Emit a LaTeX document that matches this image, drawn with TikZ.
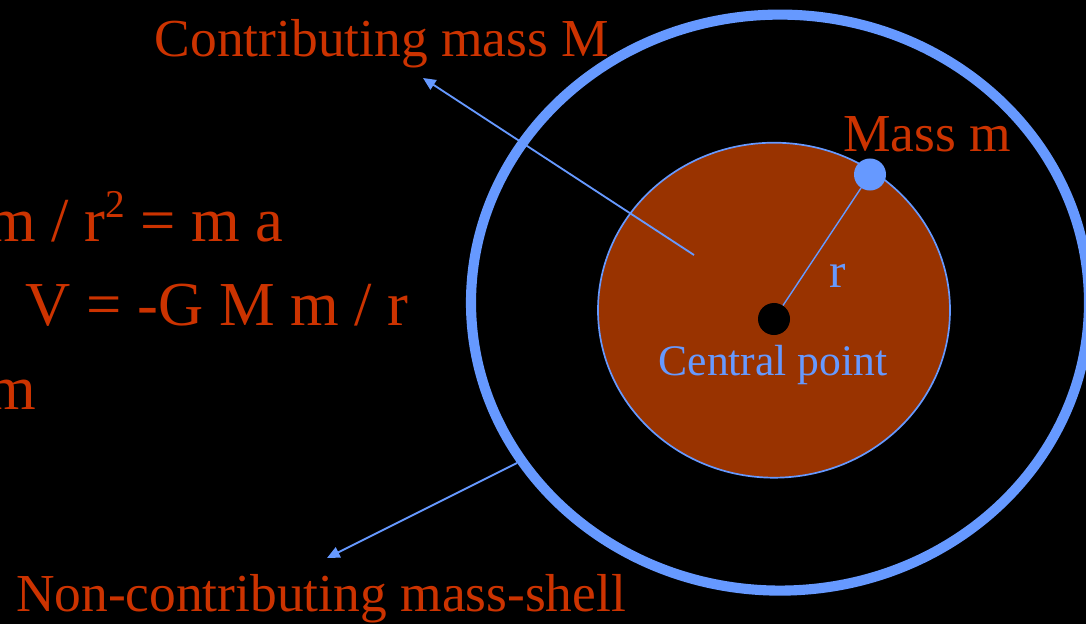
\documentclass[tikz,border=0pt]{standalone}
\usepackage{fontspec}
\setmainfont{Liberation Serif}
\usetikzlibrary{arrows.meta}
\definecolor{redtxt}{RGB}{204,51,0}
\definecolor{bluemass}{RGB}{102,153,255}
\definecolor{brownmass}{RGB}{153,51,0}
\newcommand{\supr}[1]{\raisebox{17pt}{\fontsize{28}{30}\selectfont #1}}
\begin{document}
\begin{tikzpicture}[x=0.025cm,y=-0.025cm,
  lbl/.style={text=redtxt,inner sep=0pt,font=\fontsize{38}{44}\selectfont},
  eqn/.style={lbl,font=\fontsize{44.5}{52}\selectfont,anchor=base east},
  bluelbl/.style={text=bluemass,inner sep=0pt,font=\fontsize{31}{36}\selectfont},
  dot/.style={circle,inner sep=0pt,minimum size=0.8cm},
  ptr/.style={bluemass,line width=1.3pt,-{Triangle[length=9pt,width=8pt]}}]
\useasboundingbox(0,0)rectangle(1086,624);
\fill[black](0,0)rectangle(1086,624);
\clip(0,0)rectangle(1086,624);
\draw[bluemass,line width=7.2pt](780,302.6)ellipse[x radius=309,y radius=288];
\draw[bluemass,line width=1.2pt,fill=brownmass](774,310.2)ellipse[x radius=176,y radius=167.5];
\node[bluelbl,anchor=base](cptxt)at(773,375){Central point};
\node[dot,fill=black](cp)at(774,319){};
\node[dot,fill=bluemass](mm)at(870,174.5){};
\draw[bluemass,line width=1pt](cp)--(mm);
\node[bluelbl,anchor=base,font=\fontsize{35}{40}\selectfont](rlab)at(838,287){r};
\node[lbl,anchor=base west](mmtxt)at(843,151){Mass m};
\node[lbl,anchor=base](Mtxt)at(382,57){Contributing mass M};
\coordinate(Mfoot)at(694,255);
\coordinate(Mtip)at(423,78);
\draw[ptr](Mfoot)--(Mtip);
\coordinate(Sfoot)at(517,463);
\coordinate(Stip)at(327,558);
\draw[ptr](Sfoot)--(Stip);
\node[lbl,anchor=base](Stxt)at(321,611){Non-contributing mass-shell};
\node[eqn](eq1)at(284,241){m / r\supr{2} = m a};
\node[eqn](eq2)at(409,325){: V = -G M m / r};
\node[eqn](eq3)at(36,409){m};
\end{tikzpicture}
\end{document}
